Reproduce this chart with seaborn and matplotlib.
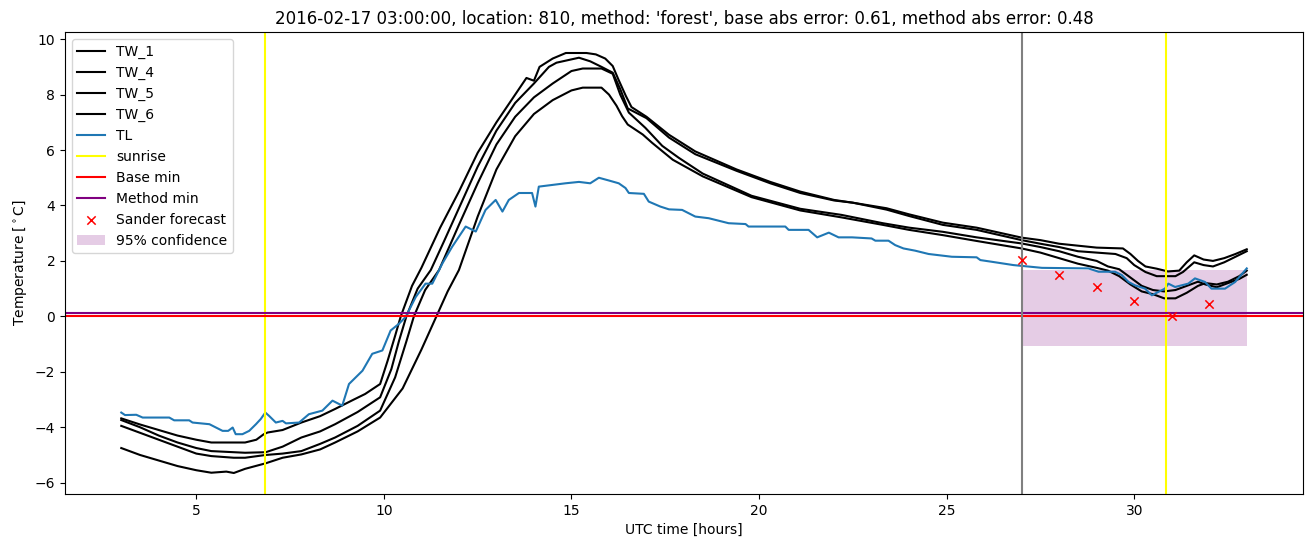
import matplotlib
matplotlib.use("Agg")
import matplotlib.pyplot as plt
import seaborn as sns

# ---------------- data ----------------
tw1_t = [3.0, 3.5, 4.0, 4.5, 5.0, 5.4, 6.0, 6.3, 6.6, 6.8, 6.9, 7.3, 7.8, 8.3, 8.7, 9.2, 9.5, 9.9, 10.1, 10.3,
         10.45, 10.75, 11.0, 11.5, 12.0, 12.5, 13.0, 13.5, 13.8, 14.0, 14.15, 14.5, 14.85, 15.4, 15.65, 15.9, 16.1,
         16.25, 16.45, 16.6, 17.0, 17.6, 18.3, 19.4, 20.3, 21.1, 22.0, 22.5, 23.4, 24.0, 24.9, 25.8, 27.0, 27.5, 28.0,
         28.5, 29.0, 29.7, 29.9, 30.1, 30.3, 30.6, 30.9, 31.2, 31.4, 31.6, 31.85, 32.1, 32.4, 32.7, 33.0]
tw1_v = [-3.68, -3.9, -4.1, -4.3, -4.45, -4.55, -4.55, -4.55, -4.45, -4.25, -4.19, -4.1, -3.83, -3.6, -3.34, -3.0,
         -2.8, -2.44, -1.6, -0.7, 0.0, 1.1, 1.75, 3.2, 4.5, 5.9, 7.0, 8.0, 8.6, 8.5, 9.0, 9.3, 9.5, 9.5, 9.45, 9.3,
         9.03, 8.55, 7.95, 7.55, 7.2, 6.55, 5.95, 5.3, 4.85, 4.5, 4.2, 4.1, 3.9, 3.68, 3.38, 3.2, 2.84, 2.75, 2.62,
         2.55, 2.48, 2.45, 2.25, 2.0, 1.8, 1.72, 1.62, 1.65, 1.95, 2.2, 2.05, 2.0, 2.1, 2.25, 2.42]

tw4_t = [3.0, 3.5, 4.0, 4.5, 5.0, 5.4, 6.0, 6.3, 6.85, 7.3, 7.8, 8.3, 8.7, 9.3, 9.9, 10.2, 10.4, 10.6, 10.9, 11.25,
         11.6, 12.0, 12.5, 13.0, 13.5, 14.0, 14.4, 14.6, 15.2, 15.5, 15.8, 16.1, 16.3, 16.5, 17.0, 17.6, 18.3, 19.4,
         20.3, 21.1, 22.0, 22.5, 23.4, 24.0, 24.9, 25.8, 27.0, 27.5, 28.0, 28.5, 29.0, 29.5, 29.8, 30.0, 30.3, 30.6,
         30.9, 31.1, 31.3, 31.6, 31.85, 32.1, 32.4, 32.7, 33.0]
tw4_v = [-3.74, -4.0, -4.3, -4.55, -4.75, -4.86, -4.9, -4.92, -4.9, -4.7, -4.37, -4.15, -3.89, -3.45, -2.92, -1.9,
         -0.9, 0.0, 1.0, 1.67, 2.7, 3.9, 5.4, 6.7, 7.7, 8.4, 9.0, 9.15, 9.33, 9.2, 9.0, 8.79, 8.2, 7.5, 7.15, 6.45,
         5.85, 5.25, 4.8, 4.45, 4.18, 4.1, 3.85, 3.62, 3.3, 3.12, 2.75, 2.62, 2.5, 2.35, 2.3, 2.25, 2.1, 1.85, 1.6,
         1.45, 1.45, 1.45, 1.6, 1.95, 1.85, 1.8, 1.95, 2.15, 2.35]

tw5_t = [3.0, 3.5, 4.0, 4.5, 5.0, 5.4, 6.0, 6.3, 6.85, 7.3, 7.8, 8.3, 8.7, 9.3, 9.9, 10.3, 10.6, 10.8, 11.1, 11.47,
         12.0, 12.5, 13.0, 13.5, 14.0, 14.5, 15.0, 15.3, 15.8, 16.1, 16.3, 16.53, 16.97, 17.42, 17.86, 18.5, 19.8,
         21.1, 22.2, 23.3, 24.0, 24.9, 25.8, 27.0, 27.5, 28.0, 28.5, 29.0, 29.3, 29.6, 29.9, 30.2, 30.5, 30.8, 31.1,
         31.4, 31.7, 31.9, 32.2, 32.5, 32.8, 33.0]
tw5_v = [-3.95, -4.2, -4.45, -4.7, -4.95, -5.04, -5.1, -5.1, -5.0, -4.95, -4.86, -4.6, -4.37, -3.95, -3.4, -2.2,
         -0.9, 0.0, 0.95, 1.67, 3.3, 4.8, 6.2, 7.2, 7.9, 8.4, 8.85, 8.94, 8.94, 8.75, 8.0, 7.35, 6.8, 6.15, 5.72,
         5.15, 4.35, 3.88, 3.66, 3.36, 3.2, 3.05, 2.85, 2.63, 2.5, 2.35, 2.15, 2.0, 1.8, 1.7, 1.4, 1.1, 0.95, 0.9,
         0.95, 1.1, 1.25, 1.15, 1.05, 1.2, 1.35, 1.5]

tw6_t = [3.0, 3.5, 4.0, 4.5, 5.0, 5.4, 5.8, 6.0, 6.3, 6.85, 7.3, 7.8, 8.3, 8.7, 9.3, 9.9, 10.5, 11.0, 11.4, 11.7,
         12.0, 12.5, 13.0, 13.5, 14.0, 14.5, 15.0, 15.3, 15.8, 16.0, 16.2, 16.35, 16.5, 16.9, 17.15, 17.7, 18.5,
         19.8, 21.1, 22.2, 23.3, 24.0, 24.9, 25.8, 27.0, 27.5, 28.0, 28.5, 29.0, 29.3, 29.6, 29.9, 30.2, 30.5, 30.8,
         31.1, 31.4, 31.7, 31.9, 32.2, 32.5, 32.8, 33.0]
tw6_v = [-4.75, -5.0, -5.2, -5.4, -5.55, -5.64, -5.6, -5.65, -5.5, -5.3, -5.1, -4.98, -4.8, -4.55, -4.15, -3.65,
         -2.6, -1.2, 0.0, 0.9, 1.67, 3.6, 5.3, 6.5, 7.3, 7.8, 8.15, 8.25, 8.25, 8.0, 7.6, 7.22, 6.92, 6.56, 6.26,
         5.65, 5.05, 4.3, 3.82, 3.57, 3.3, 3.12, 2.93, 2.72, 2.45, 2.3, 2.1, 1.9, 1.75, 1.65, 1.45, 1.15, 0.9, 0.8,
         0.65, 0.65, 0.85, 1.1, 1.2, 1.15, 1.25, 1.45, 1.65]

tl_t = [3.0, 3.1, 3.4, 3.57, 4.28, 4.41, 4.81, 4.9, 5.35, 5.7, 5.85, 5.97, 6.05, 6.23, 6.41, 6.59, 6.72, 6.84, 6.94,
        7.12, 7.3, 7.39, 7.74, 8.0, 8.36, 8.63, 8.89, 9.07, 9.43, 9.69, 9.96, 10.18, 10.4, 10.58, 10.85, 11.11,
        11.29, 11.56, 11.82, 12.18, 12.45, 12.71, 12.98, 13.16, 13.33, 13.6, 13.95, 14.04, 14.13, 14.84, 15.2, 15.5,
        15.73, 16.0, 16.26, 16.44, 16.53, 16.93, 17.06, 17.37, 17.6, 17.95, 18.3, 18.66, 19.19, 19.64, 19.72, 20.26,
        20.7, 20.79, 21.32, 21.55, 21.86, 22.12, 22.48, 23.0, 23.1, 23.45, 23.63, 23.85, 24.16, 24.52, 25.14, 25.8,
        25.9, 26.2, 26.78, 27.54, 28.78, 29.05, 29.49, 29.67, 29.85, 30.02, 30.29, 30.47, 30.64, 30.82, 30.91, 31.09,
        31.44, 31.62, 31.89, 32.06, 32.42, 32.69, 33.0]
tl_v = [-3.47, -3.56, -3.55, -3.65, -3.65, -3.75, -3.75, -3.83, -3.89, -4.13, -4.13, -4.01, -4.25, -4.25, -4.13,
        -3.89, -3.7, -3.47, -3.59, -3.83, -3.77, -3.86, -3.83, -3.53, -3.4, -3.04, -3.22, -2.44, -1.96, -1.35, -1.23,
        -0.51, -0.27, -0.02, 0.7, 1.18, 1.18, 1.91, 2.51, 3.24, 3.06, 3.84, 4.2, 3.78, 4.2, 4.45, 4.45, 3.96, 4.68,
        4.8, 4.85, 4.8, 5.0, 4.9, 4.8, 4.63, 4.45, 4.42, 4.14, 3.96, 3.86, 3.84, 3.6, 3.54, 3.36, 3.33, 3.24, 3.24,
        3.24, 3.12, 3.12, 2.85, 3.02, 2.85, 2.85, 2.81, 2.73, 2.73, 2.57, 2.45, 2.37, 2.25, 2.15, 2.13, 2.03, 1.97,
        1.85, 1.75, 1.73, 1.61, 1.61, 1.49, 1.24, 1.12, 1.0, 0.76, 0.88, 1.0, 1.18, 1.06, 1.18, 1.37, 1.24, 1.0,
        1.0, 1.24, 1.73]

sunrise_hours = [6.83, 30.85]
forecast_start = 27.0
base_min = 0.0
method_min = 0.13

sander_t = [27, 28, 29, 30, 31, 32]
sander_v = [2.03, 1.49, 1.06, 0.54, 0.01, 0.46]

conf_t = [27.0, 33.0]
conf_low = [-1.08, -1.08]
conf_high = [1.67, 1.67]

title = ("2016-02-17 03:00:00, location: 810, method: 'forest', "
         "base abs error: 0.61, method abs error: 0.48")

# ---------------- plot ----------------
fig, ax = plt.subplots(figsize=(13.13, 5.47), dpi=100)
fig.subplots_adjust(left=0.0495, right=0.9924, top=0.9415, bottom=0.0969)

for name, t, v in [("TW_1", tw1_t, tw1_v), ("TW_4", tw4_t, tw4_v),
                   ("TW_5", tw5_t, tw5_v), ("TW_6", tw6_t, tw6_v)]:
    sns.lineplot(x=t, y=v, color="black", label=name, ax=ax,
                 estimator=None, sort=False, linewidth=1.5)
sns.lineplot(x=tl_t, y=tl_v, color="#1f77b4", label="TL", ax=ax,
             estimator=None, sort=False, linewidth=1.5)

ax.axvline(sunrise_hours[0], color="yellow", label="sunrise")
ax.axvline(sunrise_hours[1], color="yellow")
ax.axhline(base_min, color="red", label="Base min")
ax.axhline(method_min, color="purple", label="Method min")
ax.axvline(forecast_start, color="grey")

sns.scatterplot(x=sander_t, y=sander_v, marker="x", color="red", s=36,
                linewidth=1.1, label="Sander forecast", ax=ax, zorder=3)
ax.fill_between(conf_t, conf_low, conf_high, color="purple", alpha=0.2,
                linewidth=0, label="95% confidence", zorder=0)

order = ["TW_1", "TW_4", "TW_5", "TW_6", "TL", "sunrise", "Base min",
         "Method min", "Sander forecast", "95% confidence"]
handles, labels = ax.get_legend_handles_labels()
hmap = {}
for h, l in zip(handles, labels):
    hmap.setdefault(l, h)
ax.legend([hmap[l] for l in order], order, loc="upper left")

ax.set_title(title)
ax.set_xlabel("UTC time [hours]")
ax.set_ylabel(r"Temperature [$^\circ$C]")

fig.savefig("out.png", dpi=100)
